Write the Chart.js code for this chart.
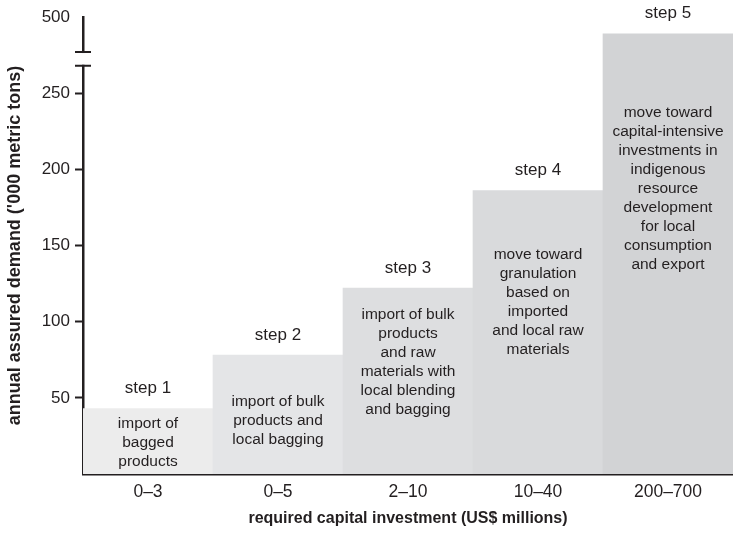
<!DOCTYPE html>
<html>
<head>
<meta charset="utf-8">
<script src="https://cdn.jsdelivr.net/npm/chart.js@4.4.0/dist/chart.umd.min.js"></script>
<style>
  html, body { margin: 0; padding: 0; background: #fff; }
  #wrap { width: 733px; height: 533px; }
</style>
</head>
<body>
<div id="wrap"><canvas id="stepChart"></canvas></div>
<script>
// categories: required capital investment (US$ millions)
const investRanges = ['0\u20133', '0\u20135', '2\u201310', '10\u201340', '200\u2013700'];
const stepLabels = ['step 1', 'step 2', 'step 3', 'step 4', 'step 5'];
// annual assured demand ('000 t); last bar sits above the axis break (value in axis units)
const demandValues = [43, 78, 122, 186, 289];
const stepTexts = [
    ['import of', 'bagged', 'products'],
    ['import of bulk', 'products and', 'local bagging'],
    ['import of bulk', 'products', 'and raw', 'materials with', 'local blending', 'and bagging'],
    ['move toward', 'granulation', 'based on', 'imported', 'and local raw', 'materials'],
    ['move toward', 'capital-intensive', 'investments in', 'indigenous', 'resource', 'development', 'for local', 'consumption', 'and export']
];
// y ticks: value 300 is the top of the broken axis and reads as 500
const yTickValues = [50, 100, 150, 200, 250, 300];
const yTickLabels = ['50', '100', '150', '200', '250', '500'];
const barColors = ['#ececec', '#e4e5e7', '#dddee0', '#d9dadc', '#d2d3d5'];

const FONT = 'Liberation Sans, Arial, Helvetica, sans-serif';
const textTopOffset = [15, 47, 27, 64, 79];

const stepTextPlugin = {
    id: 'stepText',
    afterDatasetsDraw(chart) {
        const ctx = chart.ctx;
        const meta = chart.getDatasetMeta(0);
        ctx.save();
        ctx.textAlign = 'center';
        ctx.textBaseline = 'middle';
        ctx.fillStyle = '#231f20';
        meta.data.forEach((bar, i) => {
            ctx.font = '17px ' + FONT;
            ctx.fillText(stepLabels[i], bar.x, bar.y - 20);
            ctx.font = '15.5px ' + FONT;
            stepTexts[i].forEach((line, j) => {
                ctx.fillText(line, bar.x, bar.y + textTopOffset[i] + j * 19);
            });
        });
        ctx.restore();
    },
    afterDraw(chart) {
        // axis break on the y axis
        const ctx = chart.ctx;
        const y = chart.scales.y;
        const x0 = chart.chartArea.left;
        const yLow = y.getPixelForValue(268);
        const yHigh = y.getPixelForValue(277);
        ctx.save();
        ctx.fillStyle = '#fff';
        ctx.fillRect(x0 - 4, yHigh + 1, 8, yLow - yHigh - 2);
        ctx.strokeStyle = '#231f20';
        ctx.lineWidth = 2;
        ctx.beginPath();
        ctx.moveTo(x0 - 8, yHigh); ctx.lineTo(x0 + 8, yHigh);
        ctx.moveTo(x0 - 8, yLow); ctx.lineTo(x0 + 8, yLow);
        ctx.stroke();
        ctx.restore();
    }
};

new Chart(document.getElementById('stepChart'), {
    type: 'bar',
    data: {
        labels: investRanges,
        datasets: [{
            data: demandValues,
            backgroundColor: barColors,
            borderWidth: 0,
            categoryPercentage: 1,
            barPercentage: 1
        }]
    },
    options: {
        responsive: true,
        maintainAspectRatio: false,
        animation: false,
        devicePixelRatio: 1,
        layout: { padding: { top: 17, right: 0, bottom: 0, left: 0 } },
        plugins: {
            legend: { display: false },
            tooltip: { enabled: false }
        },
        scales: {
            x: {
                z: 1,
                afterFit(scale) { scale.height = 59; },
                grid: { display: false, drawTicks: false },
                border: { color: '#231f20', width: 2.5 },
                ticks: { color: '#231f20', font: { family: FONT, size: 17.5 }, padding: 8 },
                title: {
                    display: true,
                    text: 'required capital investment (US$ millions)',
                    color: '#231f20',
                    font: { family: FONT, size: 16, weight: 'bold' },
                    padding: { top: 5, bottom: 5 }
                }
            },
            y: {
                z: 1,
                min: 0,
                max: 300,
                afterBuildTicks(scale) {
                    scale.ticks = yTickValues.map(v => ({ value: v }));
                },
                afterFit(scale) { scale.width = 83; },
                grid: {
                    drawOnChartArea: false,
                    tickLength: 8,
                    tickWidth: 2,
                    tickColor: ctx => (ctx.tick && ctx.tick.value === 300) ? 'rgba(0,0,0,0)' : '#231f20'
                },
                border: { color: '#231f20', width: 2.5 },
                ticks: {
                    color: '#231f20',
                    font: { family: FONT, size: 17 },
                    padding: 5,
                    callback: (v) => yTickLabels[yTickValues.indexOf(v)]
                },
                title: {
                    display: true,
                    text: "annual assured demand ('000 metric tons)",
                    color: '#231f20',
                    font: { family: FONT, size: 18, weight: 'bold' },
                    padding: { top: 4, bottom: 0 }
                }
            }
        }
    },
    plugins: [stepTextPlugin]
});
</script>
</body>
</html>
